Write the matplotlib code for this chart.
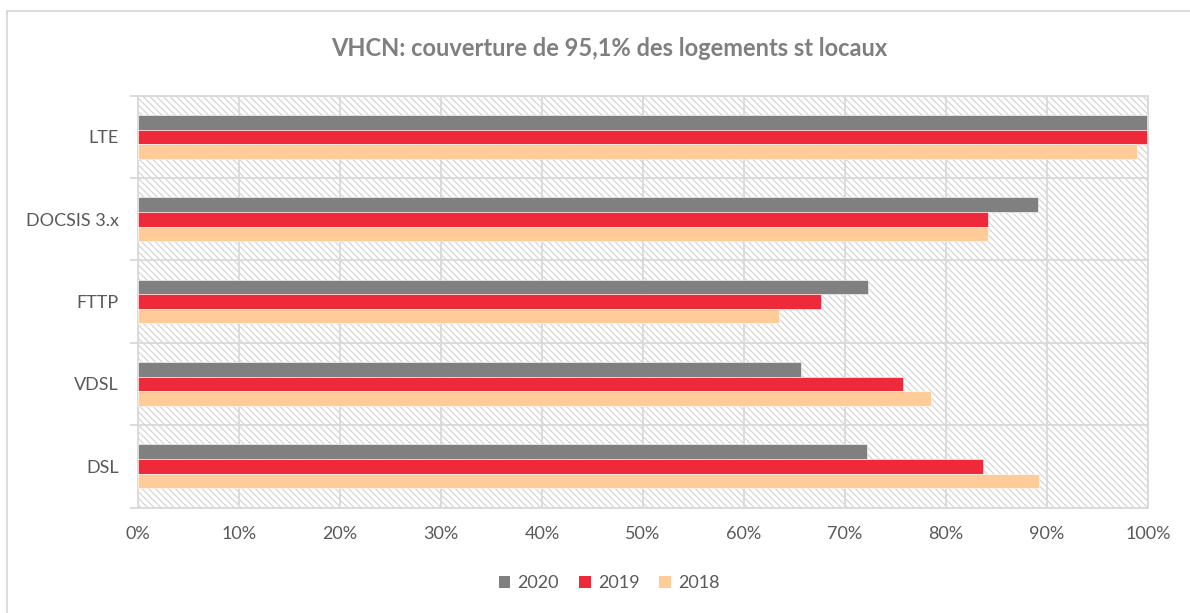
import matplotlib
matplotlib.use("Agg")
import matplotlib.pyplot as plt
from matplotlib.patches import Rectangle
from matplotlib.lines import Line2D
from matplotlib.ticker import MultipleLocator, PercentFormatter
import numpy as np

categories = ["LTE", "DOCSIS 3.x", "FTTP", "VDSL", "DSL"]
years = ["2020", "2019", "2018"]
values_2020 = [99.9, 89.1, 72.3, 65.6, 72.2]
values_2019 = [99.9, 84.2, 67.6, 75.7, 83.7]
values_2018 = [98.9, 84.2, 63.5, 78.5, 89.2]
series = [values_2020, values_2019, values_2018]
colors = ["#808080", "#EE293A", "#FFCC99"]

title = "VHCN: couverture de 95,1% des logements st locaux"

plt.rcParams["font.family"] = ["Lato", "DejaVu Sans"]
plt.rcParams["hatch.linewidth"] = 0.9

fig = plt.figure(figsize=(11.9, 6.13), dpi=100)
ax = fig.add_axes([0.116, 0.172, 0.8487, 0.672])

n = len(categories)
ypos = np.arange(n)
bar_h = 0.177

# hatched plot-area background
ax.add_patch(Rectangle((0, -0.5), 100, n, facecolor="white", edgecolor="#d6d6d6",
                       hatch="\\\\\\\\\\", linewidth=0, zorder=0))

for i, (vals, col, yr) in enumerate(zip(series, colors, years)):
    offs = (i - 1) * bar_h
    ax.barh(ypos + offs, vals, height=bar_h, color=col, edgecolor="white",
            linewidth=0.4, label=yr, zorder=3)

ax.set_xlim(0, 100)
ax.set_ylim(n - 0.5, -0.5)
ax.xaxis.set_major_locator(MultipleLocator(10))
ax.xaxis.set_major_formatter(PercentFormatter(decimals=0))
ax.set_yticks(ypos)
ax.set_yticklabels(categories)
ax.set_yticks(np.arange(n + 1) - 0.5, minor=True)

ax.grid(axis="x", which="major", color="#d9d9d9", linewidth=1.3, zorder=1)
ax.grid(axis="y", which="minor", color="#d9d9d9", linewidth=1.3, zorder=1)
ax.set_axisbelow(True)

for s in ax.spines.values():
    s.set_color("#d9d9d9")
    s.set_linewidth(1.3)

ax.tick_params(axis="both", which="major", length=0, labelsize=13,
               labelcolor="#595959")
ax.tick_params(axis="y", which="major", pad=14)
ax.tick_params(axis="y", which="minor", length=6, color="#d9d9d9", width=1.3)
ax.tick_params(axis="x", which="major", pad=13)

fig.text(0.512, 0.921, title, ha="center", va="center", fontsize=17,
         fontweight="bold", color="#7f7f7f")

handles = [Rectangle((0, 0), 1, 1, facecolor=c, edgecolor="none") for c in colors]
fig.legend(handles, years, loc="center", bbox_to_anchor=(0.512, 0.049), ncol=3,
           frameon=False, fontsize=13, labelcolor="#595959",
           handlelength=0.65, handleheight=0.65, handletextpad=0.4, columnspacing=1.1)

# outer chart frame
fig.add_artist(Line2D([7 / 1190, 7 / 1190], [0, 1 - 11 / 613], transform=fig.transFigure,
                      color="#d9d9d9", linewidth=1.3))
fig.add_artist(Line2D([7 / 1190, 1], [1 - 11 / 613, 1 - 11 / 613], transform=fig.transFigure,
                      color="#d9d9d9", linewidth=1.3))

fig.savefig("out.png", dpi=100)
